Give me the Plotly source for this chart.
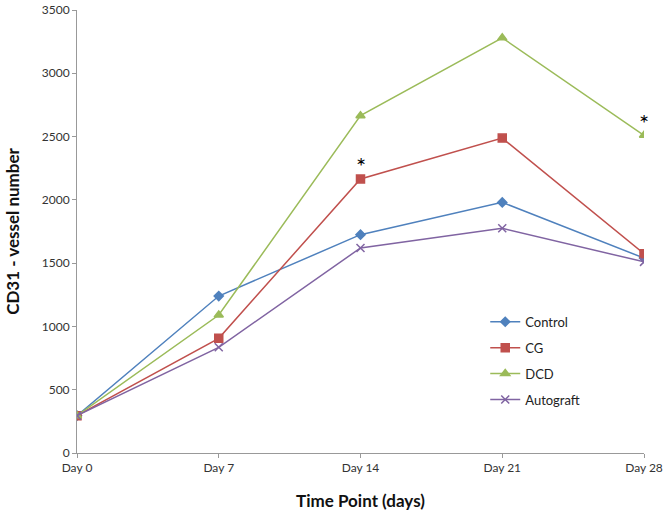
import plotly.graph_objects as go

days = ["Day 0", "Day 7", "Day 14", "Day 21", "Day 28"]
control = [295, 1240, 1725, 1980, 1540]
cg = [295, 906, 2165, 2488, 1575]
dcd = [295, 1090, 2665, 3280, 2510]
autograft = [295, 835, 1620, 1775, 1510]
y_ticks = [0, 500, 1000, 1500, 2000, 2500, 3000, 3500]

series = [
    ("Control", control, "#4F81BD", "diamond", 7),
    ("CG", cg, "#C0504D", "square", 8),
    ("DCD", dcd, "#9BBB59", "triangle-up", 8),
    ("Autograft", autograft, "#8064A2", "x-thin-open", 8),
]

fig = go.Figure()
for name, vals, color, sym, size in series:
    fig.add_trace(go.Scatter(
        x=days, y=vals, name=name, mode="lines+markers",
        legendgroup=name,
        line=dict(color=color, width=1.5),
        marker=dict(symbol=sym, size=size, color=color,
                    line=dict(color=color, width=1.5)),
    ))

# significance markers
fig.add_annotation(x="Day 14", y=2275, text="*", showarrow=False,
                   font=dict(size=24, color="black", family="Lato"))
fig.add_annotation(x="Day 28", y=2615, text="*", showarrow=False,
                   font=dict(size=24, color="black", family="Lato"))

fig.update_layout(
    width=667, height=517,
    margin=dict(l=77, r=23, t=10, b=64),
    paper_bgcolor="white", plot_bgcolor="white",
    font=dict(family="Lato", size=12, color="#222"),
    showlegend=True,
    legend=dict(x=0.72, y=0.33, xanchor="left", yanchor="top",
                bgcolor="rgba(0,0,0,0)", font=dict(size=13, color="#222"),
                tracegroupgap=6, itemwidth=30),
)
fig.update_xaxes(
    type="category", range=[0, 4], showgrid=False, automargin=False,
    showline=True, linecolor="#999", linewidth=1,
    ticks="outside", ticklen=4, tickcolor="#999",
    tickfont=dict(size=12, color="#333"),
    title=dict(text="<b>Time Point (days)</b>", font=dict(size=17, color="#111"), standoff=20),
)
fig.update_yaxes(
    range=[0, 3500], tickvals=y_ticks, showgrid=False, automargin=False,
    showline=True, linecolor="#999", linewidth=1,
    ticks="outside", ticklen=4, tickcolor="#999",
    tickfont=dict(size=12, color="#333"),
    title=dict(text="<b>CD31 - vessel number</b>", font=dict(size=17, color="#111"), standoff=17),
    zeroline=False,
)

fig.write_html("out.html",
               config={"displayModeBar": False},
               post_script="document.body.style.margin='0';document.body.style.overflow='hidden';")
